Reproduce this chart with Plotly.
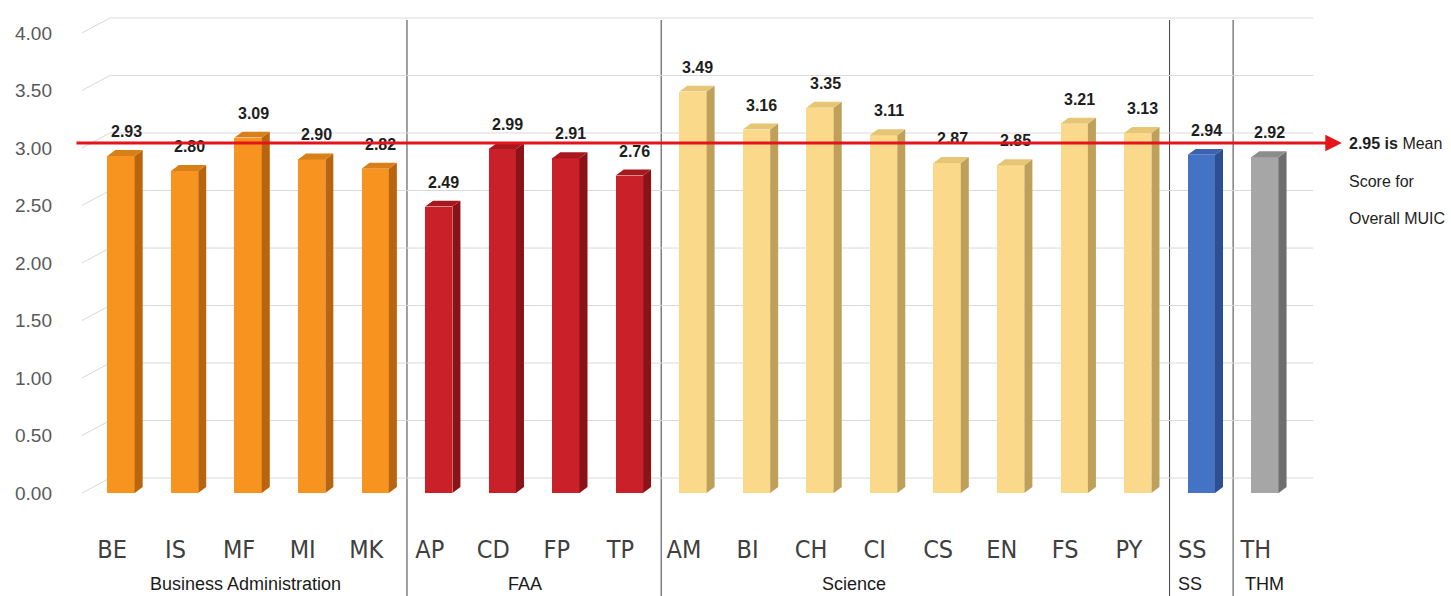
import plotly.graph_objects as go

# ---------------- data ----------------
categories = ["BE", "IS", "MF", "MI", "MK",
              "AP", "CD", "FP", "TP",
              "AM", "BI", "CH", "CI", "CS", "EN", "FS", "PY",
              "SS", "TH"]
scores = [2.93, 2.80, 3.09, 2.90, 2.82,
          2.49, 2.99, 2.91, 2.76,
          3.49, 3.16, 3.35, 3.11, 2.87, 2.85, 3.21, 3.13,
          2.94, 2.92]
groups = ["Business Administration", "FAA", "Science", "SS", "THM"]
group_sizes = [5, 4, 8, 1, 1]
mean_score = 2.95
y_ticks = [0, 0.5, 1.0, 1.5, 2.0, 2.5, 3.0, 3.5, 4.0]

# ---------------- styling ----------------
palette = [  # front, side, top per group
    ("#F7931F", "#B9650F", "#D97F17"),
    ("#C9202A", "#8A1219", "#A8181F"),
    ("#FAD98B", "#BFA05A", "#E6C574"),
    ("#4472C4", "#2D4F8F", "#3A62AD"),
    ("#A6A6A6", "#6E6E6E", "#8C8C8C"),
]
group_label_xshift = [-3, -9, -61, -11, 0]
BAR_W = 0.43
DX = 0.126      # depth offset (x units)
DY = 0.052      # depth offset (y units)
WALL = 0.13     # back wall offset for gridlines
MEAN_SHIFT = 0.093
X_RANGE = [-0.724, 18.757]
Y_RANGE = [-0.061, 4.217]

xs = list(range(len(categories)))
front, side, top = [], [], []
for g, n in enumerate(group_sizes):
    for _ in range(n):
        front.append(palette[g][0]); side.append(palette[g][1]); top.append(palette[g][2])

fig = go.Figure()
fig.add_trace(go.Bar(x=xs, y=scores, width=BAR_W,
                     marker=dict(color=front, line=dict(width=0)),
                     hoverinfo="x+y", showlegend=False))

shapes = []
# gridlines on back wall with perspective left segment
for v in y_ticks:
    path = (f"M {-0.614},{v} L {-0.173},{v + WALL} L {X_RANGE[1]},{v + WALL}")
    shapes.append(dict(type="path", path=path, xref="x", yref="y",
                       line=dict(color="#D9D9D9", width=1), layer="below"))

# group dividers
bounds = []
acc = 0
for n in group_sizes[:-1]:
    acc += n
    bounds.append(acc - 0.5)
for b in bounds:
    shapes.append(dict(type="line", xref="x", yref="paper", x0=b, x1=b,
                       y0=0.9756, y1=-0.2, line=dict(color="#3F3F3F", width=1),
                       layer="below"))

# 3D faces
for i, v in zip(xs, scores):
    x0 = i - BAR_W / 2
    x1 = i + BAR_W / 2
    shapes.append(dict(type="path", xref="x", yref="y",
                       path=f"M {x1},0 L {x1},{v} L {x1 + DX},{v + DY} L {x1 + DX},{DY} Z",
                       fillcolor=side[i], line=dict(width=0), layer="above"))
    shapes.append(dict(type="path", xref="x", yref="y",
                       path=f"M {x0},{v} L {x1},{v} L {x1 + DX},{v + DY} L {x0 + DX},{v + DY} Z",
                       fillcolor=top[i], line=dict(width=0), layer="above"))

annotations = []
# value labels
for i, v in zip(xs, scores):
    annotations.append(dict(x=i, y=v + DY, xref="x", yref="y", text=f"{v:.2f}",
                            showarrow=False, yanchor="bottom", xshift=5, yshift=8,
                            font=dict(family="Liberation Sans, Arial", size=16,
                                      color="#1E1E1E", weight="bold")))

# mean line with arrow
annotations.append(dict(x=19.21, y=mean_score + MEAN_SHIFT, ax=X_RANGE[0], ay=mean_score + MEAN_SHIFT,
                        xref="x", yref="y", axref="x", ayref="y", text="",
                        showarrow=True, arrowhead=2, arrowsize=1.1, arrowwidth=3,
                        arrowcolor="#E3151B"))

# mean explanation text
for txt, py in [("<b>2.95 is</b> Mean", 0.7256), ("Score for", 0.648), ("Overall MUIC", 0.573)]:
    annotations.append(dict(x=1.0275, y=py, xref="paper", yref="paper", text=txt,
                            showarrow=False, xanchor="left", yanchor="middle",
                            font=dict(family="Liberation Sans, Arial", size=16, color="#1E1E1E")))

# group labels
start = 0
for g, n in enumerate(group_sizes):
    center = start + (n - 1) / 2
    annotations.append(dict(x=center, y=-0.171, xref="x", yref="paper", text=groups[g],
                            showarrow=False, yanchor="middle", xshift=group_label_xshift[g],
                            font=dict(family="Liberation Sans, Arial", size=18, color="#1A1A1A")))
    start += n

fig.update_layout(
    width=1451, height=596,
    margin=dict(l=75, r=138, t=8, b=96),
    paper_bgcolor="white", plot_bgcolor="white",
    shapes=shapes, annotations=annotations,
    bargap=0,
    xaxis=dict(range=X_RANGE, tickmode="array", tickvals=xs, ticktext=categories,
               showgrid=False, zeroline=False, showline=False, ticks="",
               automargin=False,
               ticklabelstandoff=32, ticklabelshift=-9,
               tickfont=dict(family="DejaVu Sans Condensed, Liberation Sans Narrow, Liberation Sans",
                             size=25, color="#404040")),
    yaxis=dict(range=Y_RANGE, tickmode="array", tickvals=y_ticks,
               ticktext=[f"{t:.2f}" for t in y_ticks],
               showgrid=False, zeroline=False, showline=False, ticks="",
               automargin=False,
               ticklabelstandoff=22,
               tickfont=dict(family="Liberation Sans, Arial", size=19, color="#595959")),
)

fig.write_html("out.html", config={"displayModeBar": False},
               post_script="document.body.style.margin='0px';document.body.style.overflow='hidden';")
